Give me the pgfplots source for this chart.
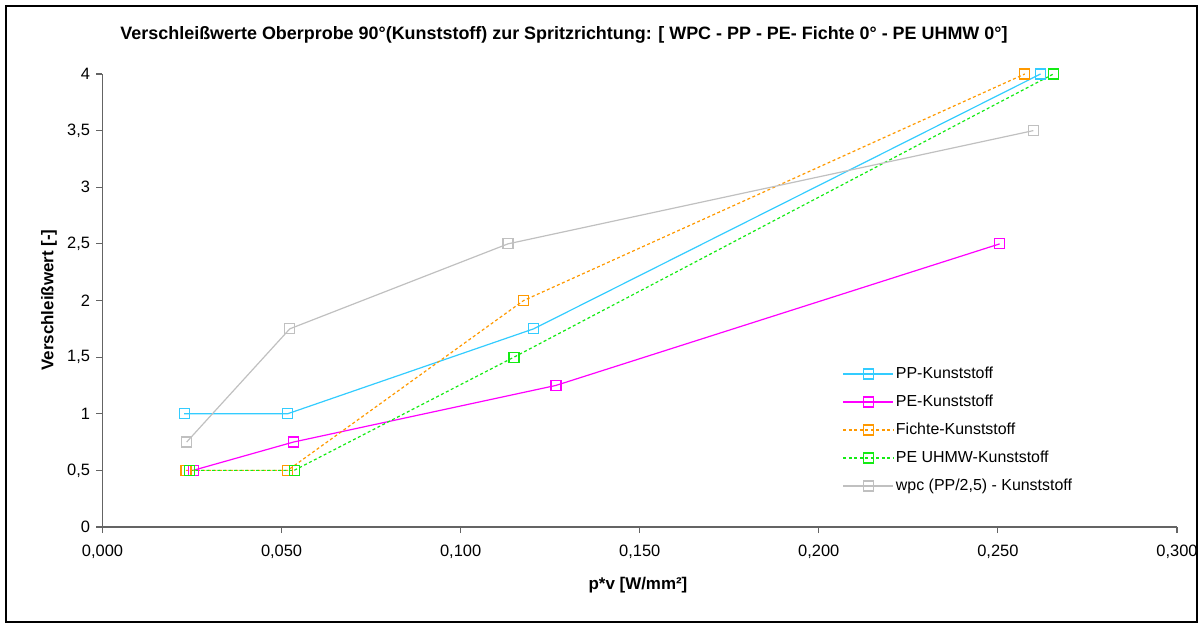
\documentclass[border=0pt]{standalone}
\usepackage{pgfplots}
\pgfplotsset{compat=1.18}
\usepackage{fontspec}
\setmainfont{Liberation Sans}

\definecolor{ppcol}{RGB}{51,204,255}
\definecolor{pecol}{RGB}{255,0,255}
\definecolor{ficol}{RGB}{255,153,0}
\definecolor{uhcol}{RGB}{20,235,20}
\definecolor{wpcol}{RGB}{192,192,192}
\definecolor{axcol}{RGB}{100,100,100}

\begin{document}
\begin{tikzpicture}[font=\fontsize{16.5}{19}\selectfont]
\useasboundingbox (-102.5bp,-102bp) rectangle (1099.5bp,527bp);
% outer chart frame
\draw[black, line width=1.3bp] (-96.5bp,-95bp) rectangle (1094.5bp,521bp);
\begin{axis}[
  scale only axis,
  width=1074.5bp, height=453bp,
  xmin=0, xmax=0.3, ymin=0, ymax=4,
  axis x line*=bottom, axis y line*=left,
  axis line style={axcol, line width=1.1bp},
  tick style={axcol, line width=1.1bp},
  tick align=outside, major tick length=6bp,
  xtick={0,0.05,...,0.3}, ytick={0,0.5,...,4},
  /pgf/number format/assume math mode=true,
  /pgf/number format/use comma,
  xticklabel style={/pgf/number format/fixed, /pgf/number format/fixed zerofill, /pgf/number format/precision=3, yshift=-9bp},
  yticklabel style={/pgf/number format/fixed, /pgf/number format/precision=1, xshift=-3bp},
  ticklabel style={font=\fontsize{16.5}{19}\selectfont},
  clip=false,
  legend cell align=left,
  legend style={draw=none, fill=none, anchor=north west,
    at={(axis description cs:0.686,0.3645)},
    font=\fontsize{16}{19}\selectfont, row sep=8bp,
    nodes={inner sep=2bp, text height=12bp, text depth=4bp}},
  legend image code/.code={
    \draw[mark repeat=2, mark phase=2] plot coordinates {(0bp,0bp) (25bp,0bp) (50bp,0bp)};},
  every axis plot/.append style={line width=1.2bp, mark=square, mark size=5bp,
    mark options={solid, line width=1.2bp, fill=none}},
]
\addplot[ppcol] coordinates {(0.0228,1) (0.0517,1) (0.1204,1.75) (0.2619,4)};
\addlegendentry{PP-Kunststoff}
\addplot[pecol] coordinates {(0.0253,0.5) (0.0533,0.75) (0.1266,1.25) (0.2505,2.5)};
\addlegendentry{PE-Kunststoff}
\addplot[ficol, dash pattern=on 3bp off 2.5bp] coordinates {(0.0233,0.5) (0.0517,0.5) (0.1176,2) (0.2575,4)};
\addlegendentry{Fichte-Kunststoff}
\addplot[uhcol, dash pattern=on 3bp off 2.5bp] coordinates {(0.0244,0.5) (0.0535,0.5) (0.1149,1.5) (0.2655,4)};
\addlegendentry{PE UHMW-Kunststoff}
\addplot[wpcol] coordinates {(0.0235,0.75) (0.0523,1.75) (0.1132,2.5) (0.2599,3.5)};
\addlegendentry{wpc (PP/2,5) - Kunststoff}
\end{axis}
\node[font=\bfseries\fontsize{18}{21}\selectfont] at (461.5bp,492bp) {Verschleißwerte Oberprobe 90°(Kunststoff) zur Spritzrichtung: [ WPC - PP - PE- Fichte 0° - PE UHMW 0°]};
\node[font=\bfseries\fontsize{17}{20}\selectfont, rotate=90] at (-53.5bp,227bp) {Verschleißwert [-]};
\node[font=\bfseries\fontsize{17}{20}\selectfont] at (535.5bp,-58bp) {p*v [W/mm²]};
\end{tikzpicture}
\end{document}
